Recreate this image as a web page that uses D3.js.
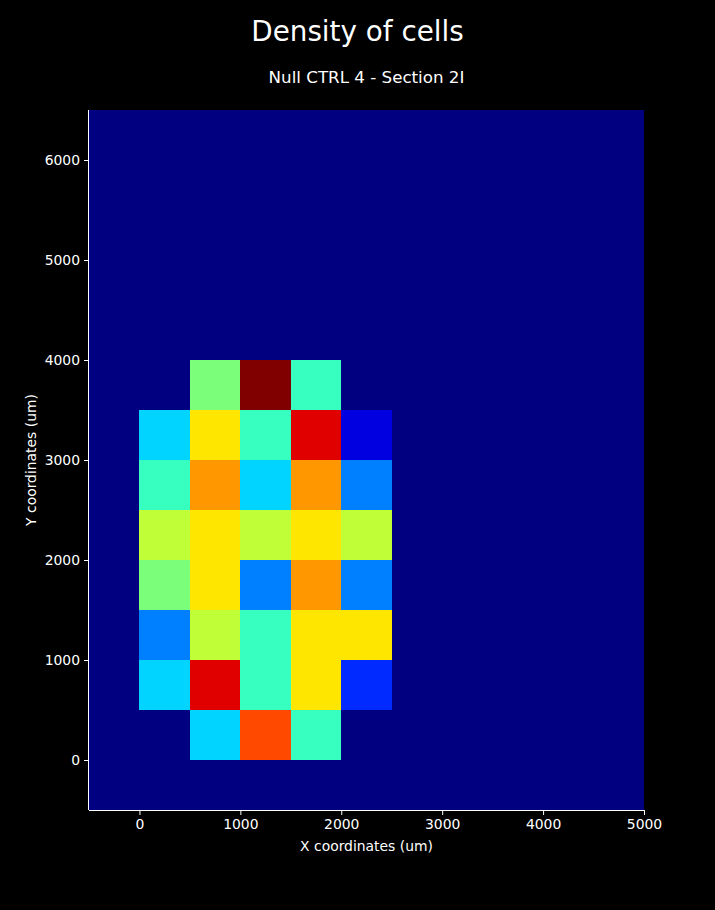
<!DOCTYPE html>
<html>
<head>
<meta charset="utf-8">
<script src="https://cdn.jsdelivr.net/npm/d3@7"></script>
<style>
  html, body { margin: 0; padding: 0; background: #000; }
  svg { display: block; font-family: "DejaVu Sans", sans-serif; }
</style>
</head>
<body>
<svg id="chart" width="715" height="910"></svg>
<script>
// ---- Data ----
const title = "Density of cells";
const subtitle = "Null CTRL 4 - Section 2I";
const xLabel = "X coordinates (um)";
const yLabel = "Y coordinates (um)";
const binSize = 500;
const xBinStarts = [0, 500, 1000, 1500, 2000];
const yBinStarts = [3500, 3000, 2500, 2000, 1500, 1000, 500, 0];
// counts per bin, rows top (3500-4000) to bottom (0-500), columns left to right
const countsRows = [
  [0, 6, 12, 5, 0],
  [4, 8, 5, 11, 1],
  [5, 9, 4, 9, 3],
  [7, 8, 7, 8, 7],
  [6, 8, 3, 9, 3],
  [3, 7, 5, 8, 8],
  [4, 11, 5, 8, 2],
  [0, 4, 10, 5, 0]
];
const xDomain = [-500, 5000];
const yDomain = [-500, 6500];
const xTicks = [0, 1000, 2000, 3000, 4000, 5000];
const yTicks = [0, 1000, 2000, 3000, 4000, 5000, 6000];
const vmax = 12;

// ---- Jet colormap (matplotlib segment data) ----
const jetR = [[0,0],[0.35,0],[0.66,1],[0.89,1],[1,0.5]];
const jetG = [[0,0],[0.125,0],[0.375,1],[0.64,1],[0.91,0],[1,0]];
const jetB = [[0,0.5],[0.11,1],[0.34,1],[0.65,0],[1,0]];
function seg(pts, t) {
  for (let i = 1; i < pts.length; i++) {
    if (t <= pts[i][0]) {
      const [x0, y0] = pts[i-1], [x1, y1] = pts[i];
      return y0 + (y1 - y0) * (t - x0) / (x1 - x0);
    }
  }
  return pts[pts.length-1][1];
}
function jet(t) {
  t = Math.max(0, Math.min(1, t));
  const c = v => Math.round(v * 255);
  return d3.rgb(c(seg(jetR, t)), c(seg(jetG, t)), c(seg(jetB, t))).toString();
}

// ---- Layout ----
const svg = d3.select("#chart");
const mLeft = 89, mRight = 644, mTop = 110, mBottom = 810;
const x = d3.scaleLinear().domain(xDomain).range([mLeft, mRight]);
const y = d3.scaleLinear().domain(yDomain).range([mBottom, mTop]);
const color = d3.scaleSequential(jet).domain([0, vmax]);

// background (zero density)
svg.append("rect")
  .attr("x", mLeft).attr("y", mTop)
  .attr("width", mRight - mLeft).attr("height", mBottom - mTop)
  .attr("fill", color(0));

// cells
const cells = [];
countsRows.forEach((row, ri) => row.forEach((v, ci) => {
  cells.push({x0: xBinStarts[ci], y0: yBinStarts[ri], v});
}));
svg.append("g").selectAll("rect").data(cells).join("rect")
  .attr("x", d => x(d.x0))
  .attr("y", d => y(d.y0 + binSize))
  .attr("width", d => x(d.x0 + binSize) - x(d.x0))
  .attr("height", d => y(d.y0) - y(d.y0 + binSize))
  .attr("fill", d => color(d.v))
  .attr("shape-rendering", "crispEdges");

// axes
const xAxis = svg.append("g")
  .attr("transform", `translate(0,${mBottom})`)
  .call(d3.axisBottom(x).tickValues(xTicks).tickSize(5).tickPadding(4).tickFormat(d3.format("d")));
const yAxis = svg.append("g")
  .attr("transform", `translate(${mLeft},0)`)
  .call(d3.axisLeft(y).tickValues(yTicks).tickSize(5).tickPadding(4).tickFormat(d3.format("d")));
[xAxis, yAxis].forEach(g => {
  g.selectAll("path").attr("stroke", "#fff").attr("stroke-width", 1);
  g.selectAll("line").attr("stroke", "#fff").attr("stroke-width", 1);
  g.selectAll("text").attr("fill", "#fff").style("font-size", "13.9px").style("font-family", "DejaVu Sans, sans-serif");
});
xAxis.select("path").attr("d", `M${mLeft},0.5H${mRight}`);
yAxis.select("path").attr("d", `M-0.5,${mTop}V${mBottom}`);

// labels
svg.append("text")
  .attr("x", (mLeft + mRight) / 2).attr("y", 851)
  .attr("text-anchor", "middle").attr("fill", "#fff")
  .style("font-size", "13.9px").text(xLabel);
svg.append("text")
  .attr("transform", `translate(36,${(mTop + mBottom) / 2}) rotate(-90)`)
  .attr("text-anchor", "middle").attr("fill", "#fff")
  .style("font-size", "13.9px").text(yLabel);

// titles
svg.append("text")
  .attr("x", 357.5).attr("y", 41)
  .attr("text-anchor", "middle").attr("fill", "#fff")
  .style("font-size", "27.8px").text(title);
svg.append("text")
  .attr("x", (mLeft + mRight) / 2).attr("y", 83)
  .attr("text-anchor", "middle").attr("fill", "#fff")
  .style("font-size", "16.7px").text(subtitle);
</script>
</body>
</html>
